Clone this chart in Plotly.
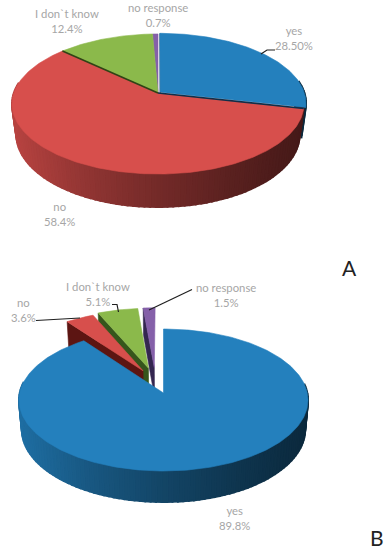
"""
Two 3D-look pie charts (A and B) drawn with filled scatter traces.
Each slice is projected from its share through a small perspective model.
"""

import numpy as np
import plotly.graph_objects as go

# data
labels = ["yes", "no", "I don`t know", "no response"]
values_a = [28.5, 58.4, 12.4, 0.7]
values_b = [89.8, 3.6, 5.1, 1.5]
text_a = ["28.50%", "58.4%", "12.4%", "0.7%"]
text_b = ["89.8%", "3.6%", "5.1%", "1.5%"]

# style
top_colors = ["#2480bd", "#d74f4c", "#8bb94b", "#8560a9"]
cut_colors = ["#123f60", "#5c1512", "#36561c", "#342650"]
shade_stops = [0.86, 0.68, 0.54, 0.42, 0.32]
GREY = "#a6a6a6"
FONT = "Lato"

# perspective model of each pie: centre, axes, tilt, thickness
pie_a = dict(cx=158, cy=93, a=144.2, b=68.3, p=0.157, c=31.2, q=0.03, x0=11, x1=304,
             explode=[0.02, 0, 0, 0], nudge=[(0, 0)] * 4, origin=1, order=[0, 3, 2, 1],
             seams=[(1, "#0f2f4a"), (2, "#2f4416")])
pie_b = dict(cx=163.5, cy=393, a=143.8, b=70.3, p=0.0986, c=30.1, q=0.02, x0=20, x1=309,
             explode=[0.05, 0.3, 0.33, 0.33], nudge=[(0, 0), (0.02, 0.02), (-0.01, 0), (-0.035, 0)],
             origin=0, order=[3, 2, 1, 0], seams=[])

fig = go.Figure()


def project(pie, u, v, z):
    w = 1 + pie["p"] * v + pie["q"] * z
    return pie["cx"] + pie["a"] * u / w, pie["cy"] - (pie["b"] * v - pie["c"] * z) / w


def add_poly(xs, ys, color, width=0.6):
    fig.add_trace(go.Scatter(x=xs, y=ys, mode="lines", fill="toself", fillcolor=color,
                             line=dict(color=color, width=width), hoverinfo="skip",
                             showlegend=False))


def shade(color, t):
    # darken a top colour according to position across the wall
    f = np.interp(t, np.linspace(0, 1, len(shade_stops)), shade_stops)
    r, g, b = [int(color[i:i + 2], 16) for i in (1, 3, 5)]
    return f"rgb({int(r * f)},{int(g * f)},{int(b * f)})"


def draw_pie(pie, values):
    edges = np.cumsum([0] + values) / sum(values) * 2 * np.pi
    mids = (edges[:-1] + edges[1:]) / 2
    off = np.array(pie["explode"])
    nudge = np.array(pie["nudge"])
    ou = off * np.sin(mids) - off[pie["origin"]] * np.sin(mids[pie["origin"]]) + nudge[:, 0]
    ov = off * np.cos(mids) - off[pie["origin"]] * np.cos(mids[pie["origin"]]) + nudge[:, 1]

    for i in pie["order"]:
        t0, t1 = edges[i], edges[i + 1]
        color = top_colors[i]

        # cut face on the leading radius
        ux, vx = np.sin(t0) + ou[i], np.cos(t0) + ov[i]
        p1 = project(pie, ou[i], ov[i], 0)
        p2 = project(pie, ux, vx, 0)
        p3 = project(pie, ux, vx, 1)
        p4 = project(pie, ou[i], ov[i], 1)
        if i != pie["origin"] and pie["explode"][i] > 0:
            add_poly([p1[0], p2[0], p3[0], p4[0], p1[0]],
                     [p1[1], p2[1], p3[1], p4[1], p1[1]], cut_colors[i])

        # outer wall, front part only
        n = max(int(np.degrees(t1 - t0) / 2), 1)
        steps = np.linspace(t0, t1, n + 1)
        for s0, s1 in zip(steps[:-1], steps[1:]):
            if np.cos((s0 + s1) / 2) > 0.15:
                continue
            us = [np.sin(s0) + ou[i], np.sin(s1) + ou[i]]
            vs = [np.cos(s0) + ov[i], np.cos(s1) + ov[i]]
            top = [project(pie, u, v, 0) for u, v in zip(us, vs)]
            bot = [project(pie, u, v, 1) for u, v in zip(us, vs)]
            xs = [top[0][0], top[1][0], bot[1][0], bot[0][0], top[0][0]]
            ys = [top[0][1], top[1][1], bot[1][1], bot[0][1], top[0][1]]
            t = (np.mean(xs) - pie["x0"]) / (pie["x1"] - pie["x0"])
            add_poly(xs, ys, shade(color, t), width=2)

        # top face
        arc = np.linspace(t0, t1, max(int(np.degrees(t1 - t0)), 2) + 1)
        x, y = project(pie, np.sin(arc) + ou[i], np.cos(arc) + ov[i], 0)
        ax, ay = project(pie, ou[i], ov[i], 0)
        add_poly(np.r_[ax, x, ax], np.r_[ay, y, ay], color)

    # dark seams between touching slices
    for i, seam in pie["seams"]:
        x, y = project(pie, np.array([0, np.sin(edges[i])]), np.array([0, np.cos(edges[i])]), 0)
        fig.add_trace(go.Scatter(x=x, y=y, mode="lines", line=dict(color=seam, width=1.6),
                                 hoverinfo="skip", showlegend=False))


draw_pie(pie_a, values_a)
draw_pie(pie_b, values_b)

# label positions: order follows labels
label_pos_a = [(294, 38), (59, 214), (67, 21), (158, 15)]
label_pos_b = [(234, 518), (23, 310), (98, 294), (226, 295)]


def add_labels(texts, positions):
    for name, pct, (x, y) in zip(labels, texts, positions):
        fig.add_annotation(x=x, y=y, text=f"{name}<br>{pct}", showarrow=False,
                           font=dict(family=FONT, size=11.3, color=GREY), align="center",
                           xanchor="center", yanchor="middle")


add_labels(text_a, label_pos_a)
add_labels(text_b, label_pos_b)

for letter, x, y in [("A", 349, 267), ("B", 377, 537)]:
    fig.add_annotation(x=x, y=y, text=letter, showarrow=False,
                       font=dict(family=FONT, size=21, color="#222222"))

# leader lines
leaders = [
    [(261, 54), (267, 50), (275, 50)],
    [(36, 320.5), (80, 318)],
    [(112, 304.5), (117, 304.5), (118.5, 312)],
    [(149, 310), (192, 289.5)],
]
for pts in leaders:
    path = "M " + " L ".join(f"{x} {y}" for x, y in pts)
    fig.add_shape(type="path", path=path, line=dict(color="#1f1f1f", width=1.2))

fig.update_xaxes(range=[0, 391], visible=False, fixedrange=True)
fig.update_yaxes(range=[550, 0], visible=False, fixedrange=True)
fig.update_layout(width=391, height=550, margin=dict(l=0, r=0, t=0, b=0),
                  paper_bgcolor="white", plot_bgcolor="white", showlegend=False)

fig.write_html("out.html", config={"displayModeBar": False},
               post_script="document.body.style.margin='0';")
